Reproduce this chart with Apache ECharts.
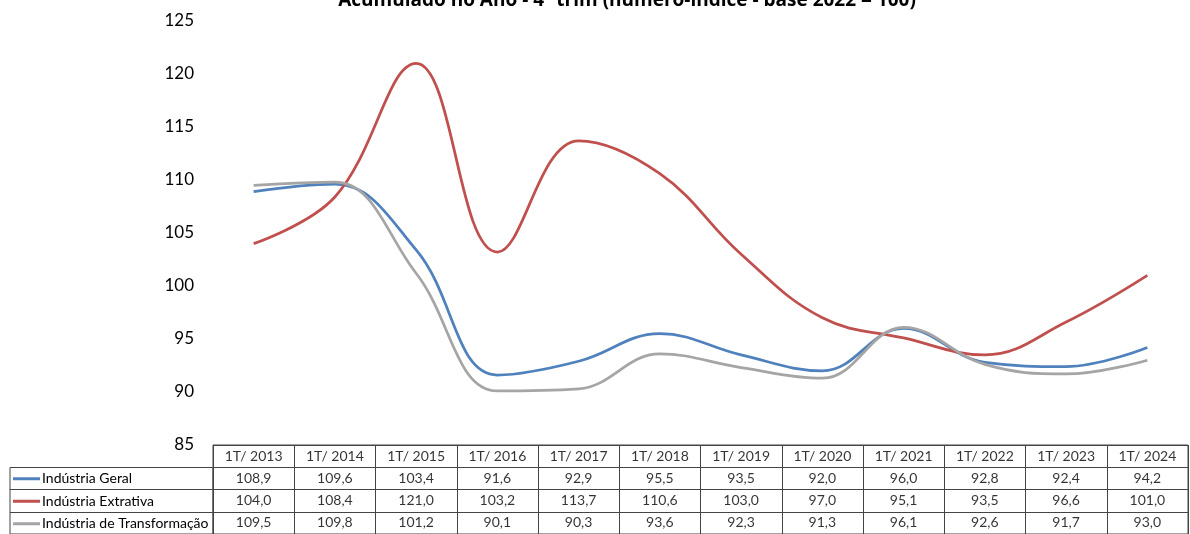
<!DOCTYPE html>
<html>
<head>
<meta charset="utf-8">
<script src="https://cdn.jsdelivr.net/npm/echarts@6/dist/echarts.min.js"></script>
<style>html,body{margin:0;padding:0;background:#fff}#c{width:1190px;height:534px}</style>
</head>
<body>
<div id="c"></div>
<script>
const categories = ['1T/ 2013','1T/ 2014','1T/ 2015','1T/ 2016','1T/ 2017','1T/ 2018','1T/ 2019','1T/ 2020','1T/ 2021','1T/ 2022','1T/ 2023','1T/ 2024'];
const seriesNames = ['Indústria Geral','Indústria Extrativa','Indústria de Transformação'];
const geral = [108.9,109.6,103.4,91.6,92.9,95.5,93.5,92.0,96.0,92.8,92.4,94.2];
const extrativa = [104.0,108.4,121.0,103.2,113.7,110.6,103.0,97.0,95.1,93.5,96.6,101.0];
const transformacao = [109.5,109.8,101.2,90.1,90.3,93.6,92.3,91.3,96.1,92.6,91.7,93.0];
const yTicks = [85,90,95,100,105,110,115,120,125];
const titleText = 'Acumulado no Ano - 4º trim (número-índice - base 2022 = 100)';

const colors = ['#4F81BD','#C0504D','#A5A5A5'];
const FONT = 'Lato, "Liberation Sans", sans-serif';
const allSeries = [geral, extrativa, transformacao];
const fmt = v => v.toFixed(1).replace('.', ',');

const tableData = [];
categories.forEach((c, i) => tableData.push([i, 0, c]));
allSeries.forEach((arr, r) => arr.forEach((v, i) => tableData.push([i, r + 1, fmt(v)])));

const legends = seriesNames.map((n, k) => ({
  data: [n], orient: 'horizontal', left: 13, top: 467.5 + k * 22.5, padding: 0, itemGap: 0,
  icon: 'rect', itemWidth: 27, itemHeight: 3, selectedMode: false,
  textStyle: {fontFamily: FONT, fontSize: 14, color: '#000', lineHeight: 22.5, padding: [0, 0, 0, -3]}
}));

const chart = echarts.init(document.getElementById('c'), null, {renderer: 'canvas'});
chart.setOption({
  animation: false,
  color: colors,
  title: {
    text: titleText, left: 627, top: -9, textAlign: 'center', padding: 0,
    textStyle: {fontFamily: '"Open Sans", Lato, sans-serif', fontSize: 19, fontWeight: 'bold', color: '#000'}
  },
  legend: legends,
  grid: [
    {left: 213, right: 2, top: 21, bottom: 89},
    {left: 213, right: 2, top: 445, height: 90, show: true, borderColor: '#444', borderWidth: 1},
    {left: 10, width: 203, top: 467.5, height: 67.5, show: true, borderColor: '#444', borderWidth: 1}
  ],
  xAxis: [
    {type: 'category', data: categories, gridIndex: 0, boundaryGap: true,
     axisLine: {show: false}, axisTick: {show: false}, axisLabel: {show: false}, splitLine: {show: false}},
    {type: 'category', data: categories, gridIndex: 1, boundaryGap: true,
     axisLine: {show: false}, axisTick: {show: false}, axisLabel: {show: false},
     splitLine: {show: true, lineStyle: {color: '#444', width: 1}}},
    {type: 'value', gridIndex: 2, show: false}
  ],
  yAxis: [
    {type: 'value', gridIndex: 0, min: 85, max: 125, interval: 5,
     axisLine: {show: false}, axisTick: {show: false}, splitLine: {show: false},
     axisLabel: {fontFamily: FONT, fontSize: 17, color: '#000', margin: 19,
       customValues: yTicks}},
    {type: 'category', gridIndex: 1, data: ['h','r1','r2','r3'], inverse: true,
     axisLine: {show: false}, axisTick: {show: false}, axisLabel: {show: false},
     splitLine: {show: true, lineStyle: {color: '#444', width: 1}}},
    {type: 'category', gridIndex: 2, data: ['r1','r2','r3'], inverse: true,
     axisLine: {show: false}, axisTick: {show: false}, axisLabel: {show: false},
     splitLine: {show: true, lineStyle: {color: '#444', width: 1}}}
  ],
  series: [
    ...seriesNames.map((n, k) => ({
      name: n, type: 'line', data: allSeries[k], smooth: 0.4, symbol: 'none',
      xAxisIndex: 0, yAxisIndex: 0,
      lineStyle: {width: 2.75, color: colors[k]}, itemStyle: {color: colors[k]}
    })),
    {
      name: 'tabela', type: 'scatter', xAxisIndex: 1, yAxisIndex: 1, data: tableData,
      symbolSize: 1, itemStyle: {color: 'transparent'}, silent: true,
      label: {show: true, position: 'inside', formatter: p => p.data[2],
        fontFamily: FONT, fontSize: 14, color: '#000'}
    }
  ]
});
</script>
</body>
</html>
